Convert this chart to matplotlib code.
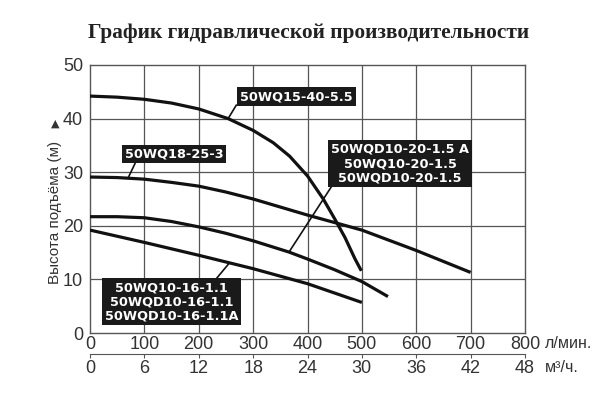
import matplotlib
matplotlib.use("Agg")
import matplotlib.pyplot as plt

# ---- data ----
title = "График гидравлической производительности"
ylabel = "Высота подъёма (м)"
flow_lpm_ticks = [0, 100, 200, 300, 400, 500, 600, 700, 800]
flow_m3h_ticks = [0, 6, 12, 18, 24, 30, 36, 42, 48]
head_ticks = [0, 10, 20, 30, 40, 50]

q1 = [0, 50, 100, 150, 200, 254, 300, 337, 367, 400, 429, 450, 469, 487, 499]
h1 = [44.2, 44.0, 43.6, 42.9, 41.8, 40.0, 37.8, 35.5, 33.0, 29.3, 25.0, 21.3, 17.8, 13.9, 11.6]

q2 = [0, 50, 100, 150, 200, 250, 300, 400, 500, 600, 700]
h2 = [29.1, 29.0, 28.7, 28.1, 27.4, 26.3, 25.0, 22.0, 19.2, 15.4, 11.3]

q3 = [0, 50, 100, 150, 200, 250, 300, 366, 400, 450, 500, 548]
h3 = [21.7, 21.7, 21.5, 20.8, 19.8, 18.6, 17.2, 15.1, 13.8, 11.8, 9.6, 6.8]

q4 = [0, 100, 200, 300, 400, 500]
h4 = [19.2, 16.9, 14.5, 12.0, 9.2, 5.7]

label1 = "50WQ15-40-5.5"
label2 = "50WQ18-25-3"
label3 = "50WQD10-20-1.5 A\n50WQ10-20-1.5\n50WQD10-20-1.5"
label4 = "50WQ10-16-1.1\n50WQD10-16-1.1\n50WQD10-16-1.1A"

# ---- figure ----
fig = plt.figure(figsize=(6.0, 4.12), dpi=100)
W, H = 600, 412
x0, x1, ytop, ybot = 90, 525, 65, 333
ax = fig.add_axes([x0 / W, (H - ybot) / H, (x1 - x0) / W, (ybot - ytop) / H])
ax.set_xlim(0, 800)
ax.set_ylim(0, 50)

grid_col = "#555555"
for v in flow_lpm_ticks[1:-1]:
    ax.axvline(v, color=grid_col, lw=0.9, zorder=1)
for v in head_ticks[1:-1]:
    ax.axhline(v, color=grid_col, lw=0.9, zorder=1)
for s in ax.spines.values():
    s.set_color(grid_col)
    s.set_linewidth(1.0)

lw = 2.3
for q, h in [(q1, h1), (q2, h2), (q3, h3), (q4, h4)]:
    ax.plot(q, h, color="#111111", lw=lw, solid_capstyle="butt",
            solid_joinstyle="round", zorder=3)

tick_col = "#333333"
sans = "Liberation Sans"
ax.set_xticks(flow_lpm_ticks)
ax.set_yticks(head_ticks)
ax.tick_params(axis="both", length=0, labelsize=13, labelcolor=tick_col)
ax.tick_params(axis="x", pad=2)
ax.tick_params(axis="y", pad=5)
for t in ax.get_xticklabels() + ax.get_yticklabels():
    t.set_family(sans)

sec = ax.secondary_xaxis(-0.079, functions=(lambda x: x * 0.06, lambda x: x / 0.06))
sec.set_xticks(flow_m3h_ticks)
sec.spines["bottom"].set_color(grid_col)
sec.tick_params(axis="x", length=3, direction="out", color=grid_col,
                labelsize=13, labelcolor=tick_col, pad=1)
for t in sec.get_xticklabels():
    t.set_family(sans)

fig.text(545 / W, 1 - 344 / H, "л/мин.", fontsize=11.5, family=sans, color=tick_col,
         va="center", ha="left")
fig.text(545 / W, 1 - 368 / H, "м³/ч.", fontsize=11.5, family=sans, color=tick_col,
         va="center", ha="left")

fig.text(309 / W, 1 - 33 / H, title, fontsize=15.4, fontweight="bold",
         family="Liberation Serif", color="#222222", ha="center", va="center")

fig.text(55 / W, 1 - 212 / H, ylabel, fontsize=11, family=sans, color=tick_col,
         rotation=90, ha="center", va="center")
fig.text(55 / W, 1 - 124 / H, "▲", fontsize=8, color=tick_col, ha="center", va="center")

# ---- labels ----
box = dict(boxstyle="square,pad=0.22", facecolor="#1a1a1a", edgecolor="none")
lab_kw = dict(color="white", fontsize=9.3, fontweight="bold", ha="center", va="center",
              bbox=box, zorder=5, linespacing=1.12, family="DejaVu Sans")
ax.text(380, 44.1, label1, **lab_kw)
ax.text(154.6, 33.4, label2, **lab_kw)
ax.text(570, 31.6, label3, multialignment="center", **lab_kw)
ax.text(150, 5.8, label4, multialignment="center", **lab_kw)

leader_kw = dict(color="#111111", lw=1.2, zorder=4)
ax.plot([269, 254], [42.5, 40.0], **leader_kw)
ax.plot([82.7, 70.4], [31.6, 29.0], **leader_kw)
ax.plot([444, 366], [27.3, 15.1], **leader_kw)
ax.plot([232, 255], [10.1, 12.9], **leader_kw)

fig.savefig("out.png", dpi=100, facecolor="white")
